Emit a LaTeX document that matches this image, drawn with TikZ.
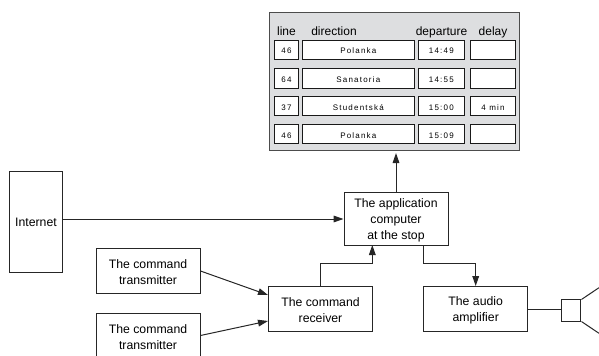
\documentclass[tikz,border=0pt]{standalone}
\usepackage{fontspec}
\setmainfont{Liberation Sans}
\usepackage{tikz}
\usetikzlibrary{positioning, arrows.meta}
\definecolor{panelgrey}{HTML}{DDDEE0}
\newcommand{\topgap}{\rule{0pt}{8.8pt}}
\tikzstyle{arrow} = [draw=black!85, line width=0.75pt, -{Stealth[length=7.5pt,width=5pt,inset=0pt]}]
\tikzstyle{wire} = [draw=black!85, line width=0.75pt]

\begin{document}
\begin{tikzpicture}[x=0.75pt,y=-0.75pt]
    \tikzstyle{every node}=[font=\fontsize{9.2pt}{12pt}\selectfont, inner sep=0pt, align=center]
    \tikzstyle{block} = [rectangle, draw=black!85, line width=0.75pt, fill=white]
    \tikzstyle{panel} = [rectangle, draw=black!70, line width=0.9pt, fill=panelgrey, minimum width=188pt, minimum height=104pt]
    \tikzstyle{head} = [anchor=base, font=\fontsize{9pt}{11pt}\selectfont]
    \tikzstyle{cell} = [rectangle, draw=black!90, line width=0.7pt, fill=white, minimum height=14.6pt, text height=6pt, text depth=0pt, font=\fontsize{6pt}{7pt}\selectfont\addfontfeatures{LetterSpace=15}]
    \tikzstyle{linecell} = [cell, minimum width=18.3pt]
    \tikzstyle{dircell} = [cell, minimum width=83.5pt]
    \tikzstyle{depcell} = [cell, minimum width=35pt]
    \tikzstyle{delaycell} = [cell, minimum width=34pt]
    \tikzstyle{bigblock} = [block, minimum width=78pt, minimum height=33.7pt]

    \useasboundingbox (0,0) rectangle (599,356);
    \clip (0,0) rectangle (599,356);

    % display at the stop
    \node[panel](panel) at (394.5,81.5) {};
    \node[head](hline) at (286.5,36) {line};
    \node[head](hdir) at (334,36) {direction};
    \node[head](hdep) at (441.5,36) {departure};
    \node[head](hdelay) at (493,36) {delay};

    \node[linecell](l1) at (286.5,50) {46};
    \node[dircell](d1) at (358.3,50) {Polanka};
    \node[depcell](t1) at (441.3,50) {14:49};
    \node[delaycell](w1) at (493,50) {};

    \node[linecell](l2) at (286.5,78.3) {64};
    \node[dircell](d2) at (358.3,78.3) {Sanatoria};
    \node[depcell](t2) at (441.3,78.3) {14:55};
    \node[delaycell](w2) at (493,78.3) {};

    \node[linecell](l3) at (286.5,106.2) {37};
    \node[dircell](d3) at (358.3,106.2) {Studentská};
    \node[depcell](t3) at (441.3,106.2) {15:00};
    \node[delaycell](w3) at (493,106.2) {4 min};

    \node[linecell](l4) at (286.5,134) {46};
    \node[dircell](d4) at (358.3,134) {Polanka};
    \node[depcell](t4) at (441.3,134) {15:09};
    \node[delaycell](w4) at (493,134) {};

    % blocks
    \node[block, minimum width=39.3pt, minimum height=75.7pt](internet) at (36,222) {Internet};
    \node[bigblock, minimum height=39.2pt](app) at (396,219) {\topgap The application\\computer\\at the stop};
    \node[bigblock](trans1) at (148,271) {\topgap The command\\transmitter};
    \node[bigblock](trans2) at (148,335.5) {\topgap The command\\transmitter};
    \node[bigblock](recv) at (320.5,309) {\topgap The command\\receiver};
    \node[bigblock](amp) at (475.7,309) {\topgap The audio\\amplifier};
    \node[block, minimum width=14.5pt, minimum height=15.8pt](speaker) at (571.3,310.5) {};
    \coordinate (cone1) at (599,287.7);
    \coordinate (cone2) at (599,333.3);

    % connections
    \draw[arrow] (app.north) -- ([yshift=-1.2pt]app.north |- panel.south);
    \draw[arrow] (app.west -| internet.east) -- (app.west);
    \draw[arrow] (trans1.east) -- (recv.west |- 0,295);
    \draw[arrow] (trans2.east) -- (recv.west |- 0,321);
    \draw[arrow] (recv.north) -- (320.5,263.3) -| (372.3,245);
    \draw[arrow] (423.7,245) -- (423.7,263.3) -| (amp.north);
    \draw[wire] (amp.east) -- (speaker.west |- amp.east);
    \draw[wire] (speaker.north east) -- (cone1);
    \draw[wire] (speaker.south east) -- (cone2);
\end{tikzpicture}
\end{document}
